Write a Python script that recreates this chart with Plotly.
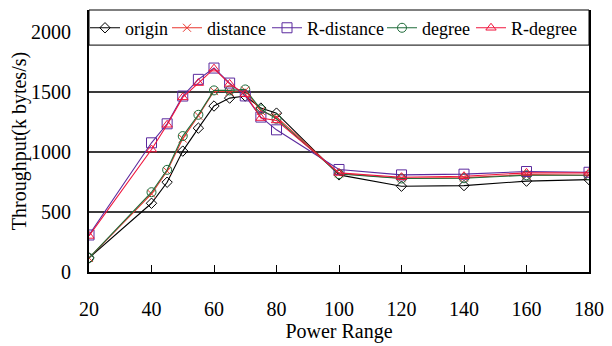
import plotly.graph_objects as go

power_range = [20, 40, 45, 50, 55, 60, 65, 70, 75, 80, 100, 120, 140, 160, 180]
origin = [117, 572, 747, 1006, 1197, 1381, 1447, 1464, 1364, 1322, 808, 714, 719, 756, 769]
distance = [117, 650, 840, 1110, 1300, 1505, 1500, 1510, 1340, 1290, 820, 780, 785, 810, 805]
r_distance = [308, 1075, 1233, 1464, 1603, 1697, 1572, 1465, 1289, 1183, 853, 808, 814, 836, 830]
degree = [117, 664, 850, 1131, 1308, 1511, 1511, 1519, 1353, 1275, 815, 778, 780, 805, 805]
r_degree = [300, 1019, 1225, 1453, 1572, 1692, 1565, 1480, 1281, 1261, 825, 789, 797, 825, 825]

series = [
    ("origin", origin, "#000000", "diamond-open", 8),
    ("distance", distance, "#E8362F", "x-thin-open", 8),
    ("R-distance", r_distance, "#5B2A9E", "square-open", 10),
    ("degree", degree, "#1F6B3A", "circle-open", 9),
    ("R-degree", r_degree, "#F0143C", "triangle-up-open", 9),
]
# legend entry left positions (fraction of plot width)
legend_x = [-0.008, 0.156, 0.356, 0.586, 0.764]

FONT = "Times New Roman"
fig = go.Figure()
legend_layouts = {}
for i, (name, vals, color, sym, size) in enumerate(series):
    lg = "legend" if i == 0 else f"legend{i+1}"
    fig.add_trace(go.Scatter(
        x=power_range, y=vals, name=name, mode="lines+markers",
        line=dict(color=color, width=1.1),
        marker=dict(symbol=sym, size=size, color=color, line=dict(color=color, width=1)),
        legend=lg,
    ))
    legend_layouts[lg] = dict(
        orientation="h", x=legend_x[i], y=0.931, xanchor="left", yanchor="middle",
        bgcolor="rgba(0,0,0,0)", borderwidth=0,
        font=dict(family=FONT, size=18, color="black"),
        itemwidth=30,
    )

fig.update_layout(
    width=604, height=338,
    margin=dict(l=81, r=23, t=2, b=74, autoexpand=False),
    paper_bgcolor="white", plot_bgcolor="white",
    font=dict(family=FONT, size=20, color="black"),
    showlegend=True,
    shapes=[dict(
        type="rect", xref="paper", yref="paper", x0=0, x1=1, y0=0.866, y1=1,
        line=dict(color="black", width=1), fillcolor="white", layer="above",
    )],
    **legend_layouts,
)
fig.update_xaxes(
    range=[20, 180], tickvals=[20, 40, 60, 80, 100, 120, 140, 160, 180],
    showgrid=False, zeroline=False, automargin=False,
    showline=True, linecolor="black", linewidth=2, mirror=False,
    ticks="inside", ticklen=7, tickcolor="black", tickwidth=1,
    ticklabelstandoff=18,
    title=dict(text="Power Range", font=dict(family=FONT, size=20), standoff=4),
)
fig.update_yaxes(
    range=[0, 2180], tickvals=[0, 500, 1000, 1500, 2000],
    showgrid=True, gridcolor="#3a3a3a", gridwidth=1.5, zeroline=False, automargin=False,
    showline=True, linecolor="black", linewidth=2, mirror=True,
    ticks="", ticklabelstandoff=12,
    title=dict(text="Throughput(k bytes/s)", font=dict(family=FONT, size=20), standoff=4),
)

fig.write_html("out.html")
